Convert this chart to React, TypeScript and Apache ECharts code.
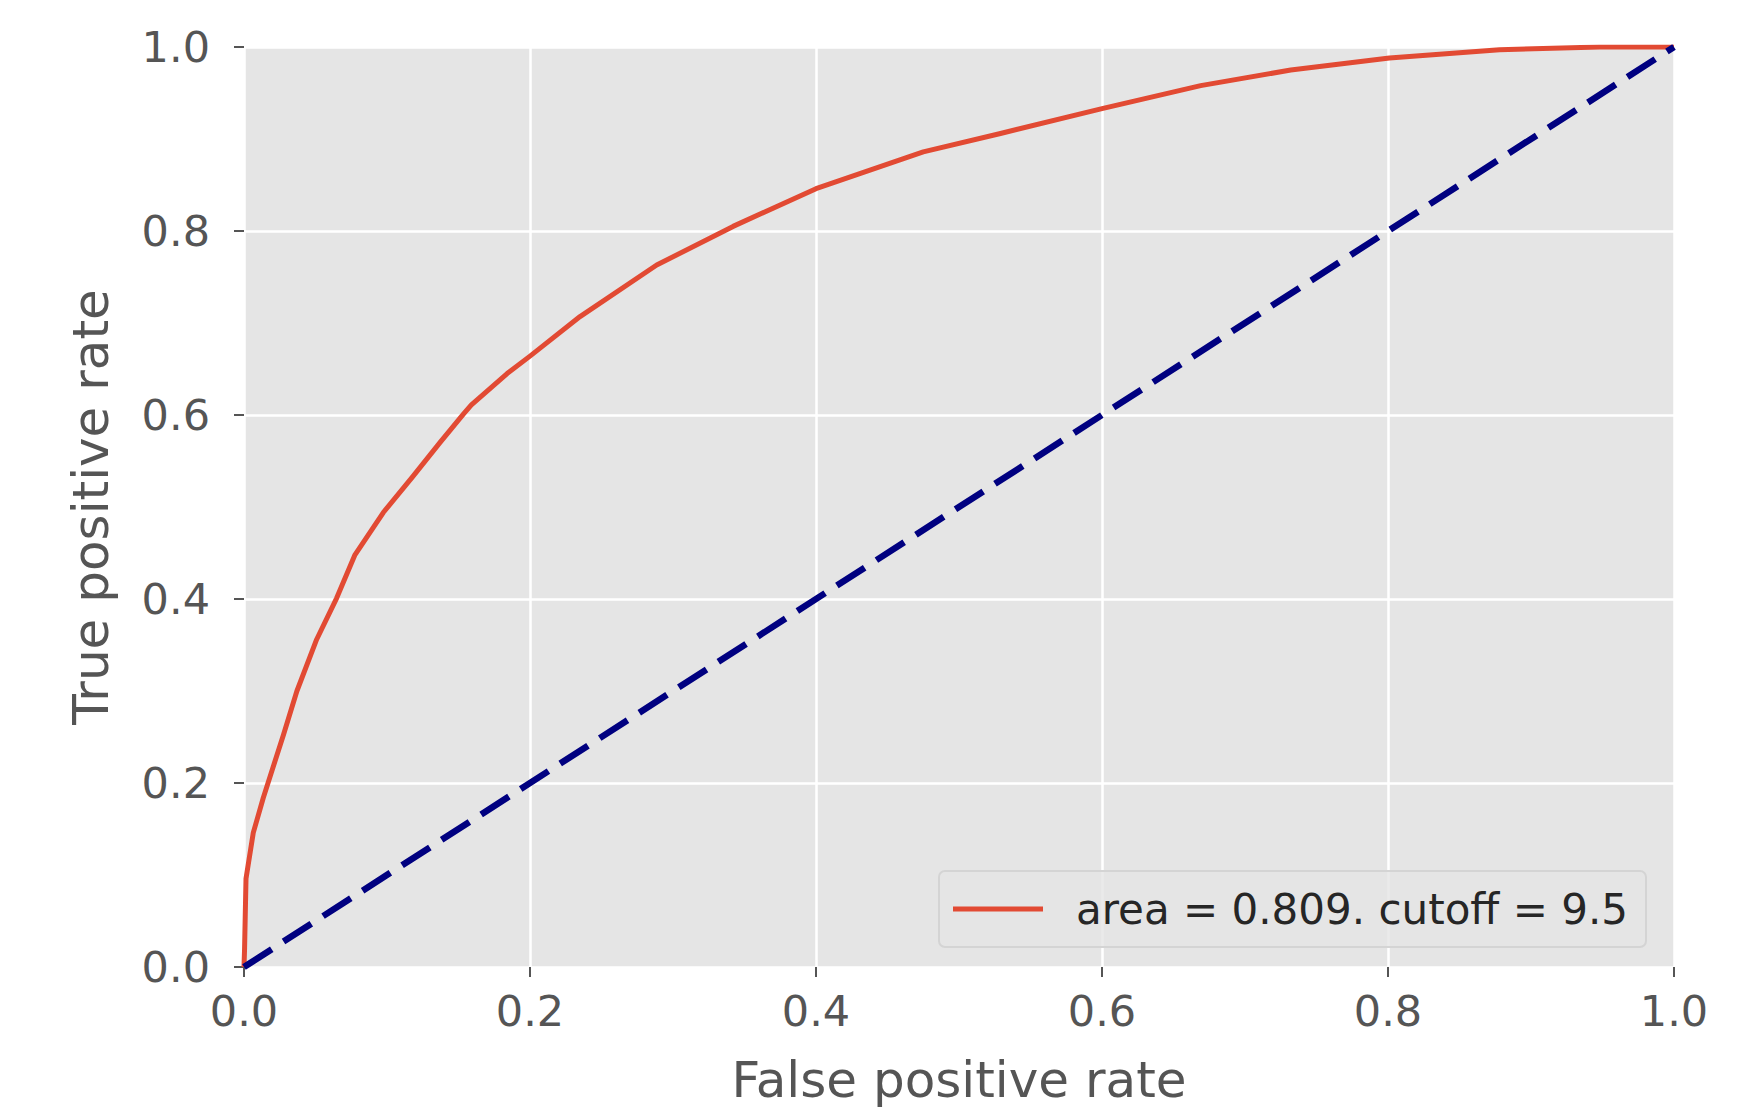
import React, { useEffect, useRef } from "react";
import * as echarts from "echarts";

const fpr = [0, 0.0004, 0.0014, 0.0065, 0.0135, 0.0275, 0.037, 0.0508, 0.0648, 0.0776, 0.0974, 0.118, 0.137, 0.1534, 0.159, 0.184, 0.2, 0.235, 0.2886, 0.342, 0.4, 0.475, 0.529, 0.6, 0.669, 0.732, 0.801, 0.878, 0.948, 1];
const tpr = [0, 0.02, 0.096, 0.146, 0.184, 0.252, 0.3, 0.356, 0.401, 0.448, 0.494, 0.533, 0.57, 0.601, 0.611, 0.645, 0.664, 0.707, 0.763, 0.805, 0.846, 0.886, 0.906, 0.933, 0.958, 0.975, 0.988, 0.997, 1.0, 1];
const diagX = [0, 1];
const diagY = [0, 1];
const rocName = "area = 0.809. cutoff = 9.5";
const xName = "False positive rate";
const yName = "True positive rate";

const FONT = "DejaVu Sans";

export default function App() {
  const ref = useRef<HTMLDivElement>(null);
  useEffect(() => {
    document.body.style.margin = "0";
    const chart = echarts.init(ref.current!, undefined, { renderer: "svg" });
    const axisCommon = {
      type: "value" as const,
      min: 0,
      max: 1,
      interval: 0.2,
      nameLocation: "middle" as const,
      nameTextStyle: { fontFamily: FONT, fontSize: 50, color: "#555555" },
      axisLine: { show: false },
      axisTick: { show: true, length: 10, lineStyle: { color: "#555555", width: 2 } },
      axisLabel: {
        fontFamily: FONT,
        fontSize: 43,
        color: "#555555",
        formatter: (v: number) => v.toFixed(1),
      },
      splitLine: { show: true, lineStyle: { color: "#ffffff", width: 2.5 } },
    };
    chart.setOption({
      animation: false,
      grid: {
        left: 244,
        right: 89,
        top: 47,
        bottom: 142,
        show: true,
        backgroundColor: "#E5E5E5",
        borderWidth: 0,
      },
      xAxis: {
        ...axisCommon,
        name: xName,
        nameGap: 88,
        axisLabel: { ...axisCommon.axisLabel, margin: 22 },
      },
      yAxis: {
        ...axisCommon,
        name: yName,
        nameGap: 128,
        axisLabel: { ...axisCommon.axisLabel, margin: 34 },
      },
      legend: {
        data: [rocName],
        left: 939,
        top: 871,
        orient: "vertical",
        icon: "rect",
        itemWidth: 90,
        itemHeight: 5,
        padding: [17, 18, 17, 14],
        backgroundColor: "rgba(229,229,229,0.8)",
        borderColor: "#d4d4d4",
        borderWidth: 2,
        borderRadius: 6,
        textStyle: {
          fontFamily: FONT,
          fontSize: 42,
          color: "#262626",
          lineHeight: 42,
          padding: [0, 0, 0, 28],
        },
      },
      series: [
        {
          name: rocName,
          type: "line",
          data: fpr.map((x, i) => [x, tpr[i]]),
          showSymbol: false,
          symbol: "none",
          lineStyle: { color: "#E24A33", width: 5, join: "round" },
          itemStyle: { color: "#E24A33" },
          z: 2,
        },
        {
          name: "diagonal",
          type: "line",
          data: diagX.map((x, i) => [x, diagY[i]]),
          showSymbol: false,
          symbol: "none",
          lineStyle: { color: "#000080", width: 6.5, type: [33, 14] },
          itemStyle: { color: "#000080" },
          z: 3,
        },
      ],
    });
    return () => chart.dispose();
  }, []);
  return <div ref={ref} style={{ width: 1763, height: 1110 }} />;
}
